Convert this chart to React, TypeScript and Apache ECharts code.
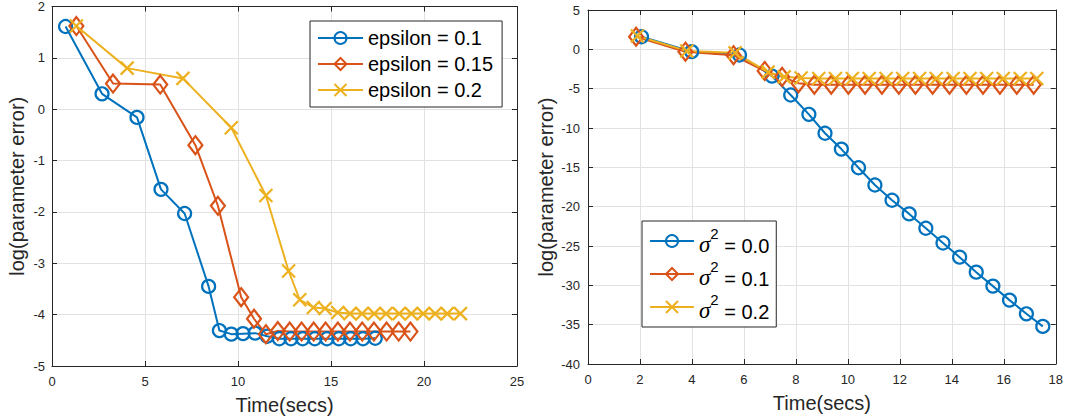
import React, { useEffect, useRef } from "react";
import * as echarts from "echarts";

// ---------- Left panel data (epsilon) ----------
const eps01X = [0.73, 2.69, 4.57, 5.86, 7.13, 8.42, 9.0, 9.64, 10.27, 10.92, 11.57, 12.22, 12.85, 13.48, 14.13, 14.78, 15.42, 16.06, 16.72, 17.38];
const eps01Y = [1.61, 0.3, -0.16, -1.56, -2.03, -3.45, -4.31, -4.38, -4.37, -4.36, -4.42, -4.47, -4.47, -4.47, -4.47, -4.47, -4.47, -4.47, -4.47, -4.46];
const eps015X = [1.31, 3.28, 5.82, 7.71, 8.92, 10.17, 10.86, 11.5, 12.14, 12.78, 13.42, 14.07, 14.71, 15.37, 16.02, 16.68, 17.31, 17.99, 18.64, 19.27];
const eps015Y = [1.62, 0.5, 0.48, -0.7, -1.88, -3.66, -4.08, -4.38, -4.32, -4.33, -4.33, -4.33, -4.33, -4.33, -4.33, -4.33, -4.33, -4.33, -4.33, -4.33];
const eps02X = [1.31, 4.04, 7.04, 9.64, 11.5, 12.72, 13.32, 14.05, 14.68, 15.36, 16.02, 16.67, 17.32, 17.96, 18.66, 19.32, 19.96, 20.6, 21.25, 21.96];
const eps02Y = [1.62, 0.8, 0.6, -0.36, -1.68, -3.15, -3.71, -3.86, -3.88, -3.96, -3.98, -3.98, -3.98, -3.98, -3.98, -3.98, -3.98, -3.98, -3.98, -3.98];
const leftNames = ["epsilon = 0.1", "epsilon = 0.15", "epsilon = 0.2"];

// ---------- Right panel data (sigma^2) ----------
const s0X = [2.06, 3.99, 5.83, 7.08, 7.8, 8.5, 9.12, 9.75, 10.41, 11.04, 11.7, 12.36, 13.0, 13.66, 14.3, 14.94, 15.58, 16.22, 16.87, 17.5];
const s0Y = [1.6, -0.3, -0.72, -3.4, -5.8, -8.26, -10.67, -12.68, -15.05, -17.25, -19.18, -20.92, -22.74, -24.62, -26.42, -28.33, -30.1, -31.88, -33.62, -35.22];
const s01X = [1.85, 3.75, 5.6, 6.8, 7.47, 8.1, 8.71, 9.36, 10.02, 10.66, 11.31, 11.96, 12.6, 13.26, 13.91, 14.56, 15.2, 15.85, 16.5, 17.15];
const s01Y = [1.6, -0.3, -0.75, -2.75, -3.5, -4.3, -4.5, -4.5, -4.5, -4.5, -4.5, -4.5, -4.5, -4.5, -4.5, -4.5, -4.5, -4.5, -4.5, -4.5];
const s02X = [1.9, 3.8, 5.66, 6.93, 7.55, 8.2, 8.88, 9.52, 10.17, 10.82, 11.47, 12.11, 12.76, 13.4, 14.05, 14.7, 15.34, 15.98, 16.63, 17.27];
const s02Y = [1.7, -0.2, -0.45, -2.9, -3.5, -3.65, -3.7, -3.7, -3.7, -3.7, -3.7, -3.7, -3.7, -3.7, -3.7, -3.7, -3.7, -3.7, -3.7, -3.7];
const rightNames = ["σ² = 0.0", "σ² = 0.1", "σ² = 0.2"];
const rightValues = ["0.0", "0.1", "0.2"];

const xLabel = "Time(secs)";
const yLabel = "log(parameter error)";

const BLUE = "#0072BD";
const ORANGE = "#D95319";
const YELLOW = "#EDB120";
const AXIS = "#262626";
const GRID = "#e2e2e2";
const FONT = "'Liberation Sans', Arial, Helvetica, sans-serif";
const CROSS = "path://M0,0L10,10M10,0L0,10";

const zip = (xs: number[], ys: number[]) => xs.map((x, i) => [x, ys[i]]);

function mkSeries(name: string, xs: number[], ys: number[], color: string, symbol: string, size: any, idx: number) {
  return {
    name,
    type: "line",
    xAxisIndex: idx,
    yAxisIndex: idx,
    data: zip(xs, ys),
    symbol,
    symbolSize: size,
    showAllSymbol: true,
    lineStyle: { color, width: 2 },
    itemStyle: { color: "rgba(255,255,255,0)", borderColor: color, borderWidth: 2.2 },
    emphasis: { disabled: true },
    z: 2,
  };
}

function mainX(gridIndex: number, min: number, max: number, interval: number, margin: number, nameGap: number) {
  return {
    type: "value",
    gridIndex,
    min,
    max,
    interval,
    name: xLabel,
    nameLocation: "middle",
    nameGap,
    nameTextStyle: { fontFamily: FONT, fontSize: 20, color: AXIS },
    axisLine: { show: true, onZero: false, lineStyle: { color: AXIS, width: 1 } },
    axisTick: { show: true, inside: true, length: 5, lineStyle: { color: AXIS } },
    axisLabel: { fontFamily: FONT, fontSize: 13, color: AXIS, margin },
    splitLine: { show: true, lineStyle: { color: GRID, width: 1 } },
  };
}

function mirrorX(gridIndex: number, min: number, max: number, interval: number) {
  return {
    type: "value",
    gridIndex,
    position: "top",
    min,
    max,
    interval,
    axisLine: { show: true, onZero: false, lineStyle: { color: AXIS, width: 1 } },
    axisTick: { show: true, inside: true, length: 5, lineStyle: { color: AXIS } },
    axisLabel: { show: false },
    splitLine: { show: false },
  };
}

function mainY(gridIndex: number, min: number, max: number, interval: number, margin: number, nameGap: number) {
  return {
    type: "value",
    gridIndex,
    min,
    max,
    interval,
    name: yLabel,
    nameLocation: "middle",
    nameGap,
    nameTextStyle: { fontFamily: FONT, fontSize: 20, color: AXIS },
    axisLine: { show: true, onZero: false, lineStyle: { color: AXIS, width: 1 } },
    axisTick: { show: true, inside: true, length: 5, lineStyle: { color: AXIS } },
    axisLabel: { fontFamily: FONT, fontSize: 13, color: AXIS, margin },
    splitLine: { show: true, lineStyle: { color: GRID, width: 1 } },
  };
}

function mirrorY(gridIndex: number, min: number, max: number, interval: number) {
  return {
    type: "value",
    gridIndex,
    position: "right",
    min,
    max,
    interval,
    axisLine: { show: true, onZero: false, lineStyle: { color: AXIS, width: 1 } },
    axisTick: { show: true, inside: true, length: 5, lineStyle: { color: AXIS } },
    axisLabel: { show: false },
    splitLine: { show: false },
  };
}

export default function App() {
  const ref = useRef<HTMLDivElement>(null);
  useEffect(() => {
    if (!ref.current) return;
    const chart = echarts.init(ref.current, undefined, { renderer: "svg" });
    const circ = 13;
    const diam = [14, 18];
    const cross = 13;
    chart.setOption({
      animation: false,
      backgroundColor: "#ffffff",
      grid: [
        { left: 52, top: 6, width: 465, height: 360 },
        { left: 588, top: 10, width: 468, height: 354 },
      ],
      xAxis: [
        mainX(0, 0, 25, 5, 9, 29),
        mirrorX(0, 0, 25, 5),
        mainX(1, 0, 18, 2, 9, 29),
        mirrorX(1, 0, 18, 2),
      ],
      yAxis: [
        mainY(0, -5, 2, 1, 7, 25),
        mirrorY(0, -5, 2, 1),
        mainY(1, -40, 5, 5, 8, 32),
        mirrorY(1, -40, 5, 5),
      ],
      legend: [
        {
          data: leftNames,
          orient: "vertical",
          left: 310,
          top: 21,
          padding: [6, 9, 6, 7],
          itemGap: 4,
          itemWidth: 45,
          itemHeight: 15,
          borderColor: AXIS,
          borderWidth: 1,
          backgroundColor: "#ffffff",
          selectedMode: false,
          textStyle: { fontFamily: FONT, fontSize: 20, color: "#000", lineHeight: 22, padding: [0, 0, 0, 0] },
        },
        {
          data: rightNames,
          orient: "vertical",
          left: 642,
          top: 221,
          padding: [5, 7, 5, 7],
          itemGap: 3,
          itemWidth: 44,
          itemHeight: 15,
          borderColor: AXIS,
          borderWidth: 1,
          backgroundColor: "#ffffff",
          selectedMode: false,
          formatter: (name: string) => {
            const i = rightNames.indexOf(name);
            return "{s|σ}{sup|2}{t| = " + rightValues[i] + "}";
          },
          textStyle: {
            fontFamily: FONT,
            fontSize: 20,
            color: "#000",
            lineHeight: 30,
            rich: {
              s: { fontFamily: "'Liberation Serif', serif", fontStyle: "italic", fontSize: 23, color: "#000", verticalAlign: "bottom", lineHeight: 30 },
              sup: { fontFamily: FONT, fontSize: 15, color: "#000", verticalAlign: "top", lineHeight: 30 },
              t: { fontFamily: FONT, fontSize: 20, color: "#000", verticalAlign: "bottom", lineHeight: 30 },
            },
          },
        },
      ],
      series: [
        mkSeries(leftNames[0], eps01X, eps01Y, BLUE, "circle", circ, 0),
        mkSeries(leftNames[1], eps015X, eps015Y, ORANGE, "diamond", diam, 0),
        mkSeries(leftNames[2], eps02X, eps02Y, YELLOW, CROSS, cross, 0),
        mkSeries(rightNames[0], s0X, s0Y, BLUE, "circle", circ, 2),
        mkSeries(rightNames[1], s01X, s01Y, ORANGE, "diamond", diam, 2),
        mkSeries(rightNames[2], s02X, s02Y, YELLOW, CROSS, cross, 2),
      ],
    });
    return () => chart.dispose();
  }, []);
  return (
    <div
      ref={ref}
      style={{ position: "fixed", left: 0, top: 0, width: 1066, height: 420, background: "#fff" }}
    />
  );
}
